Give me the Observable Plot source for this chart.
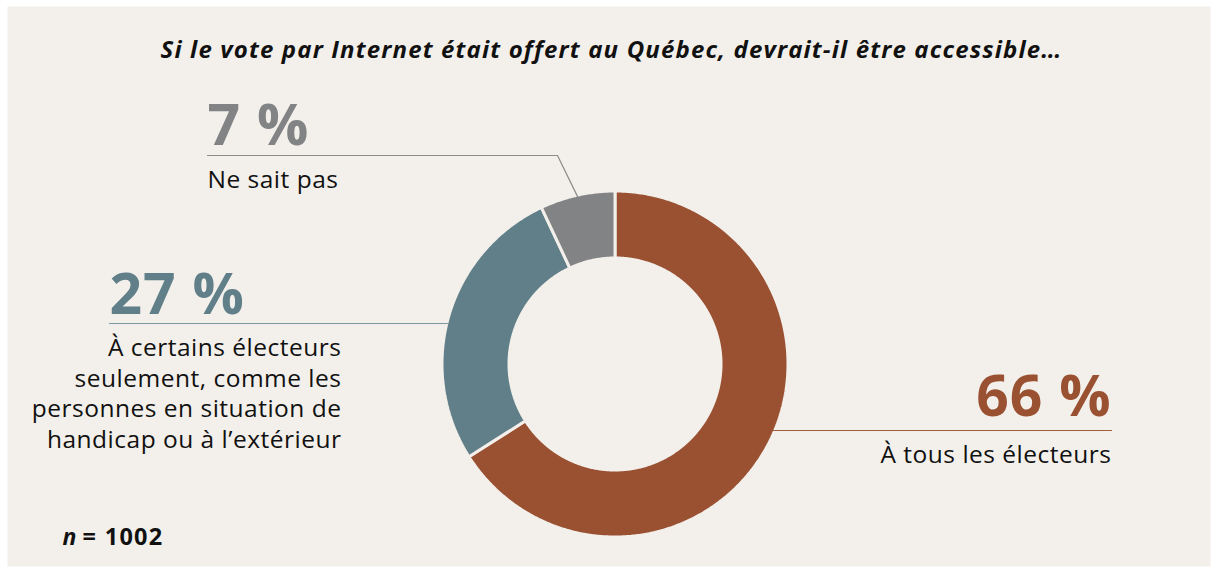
<!DOCTYPE html>
<html>
<head>
<meta charset="utf-8">
<script src="https://cdn.jsdelivr.net/npm/d3@7"></script>
<script src="https://cdn.jsdelivr.net/npm/@observablehq/plot@0.6"></script>
<style>
  html, body { margin: 0; padding: 0; background: #ffffff; }
  #chart svg { display: block; }
</style>
</head>
<body>
<div id="chart"></div>
<script>
// ---- data ----
const categories = ["À tous les électeurs", "À certains électeurs seulement, comme les personnes en situation de handicap ou à l’extérieur", "Ne sait pas"];
const keys = ["tous", "certains", "nsp"];
const values = [66, 27, 7];
const valueLabels = ["66 %", "27 %", "7 %"];
const labelLines = [
  "À tous les électeurs",
  "À certains électeurs\nseulement, comme les\npersonnes en situation de\nhandicap ou à l’extérieur",
  "Ne sait pas"
];
const titleText = "Si le vote par Internet était offert au Québec, devrait-il être accessible…";
const sampleN = "n";
const sampleLabel = "= 1002";

// ---- layout & style (not data) ----
const W = 1211, H = 568;
const bg = "#f3f0eb";
const sliceColors = ["#9a5132", "#607f88", "#828385"];
const lineColors = ["#a35c3c", "#7d98a1", "#8c8c8c"];
const cx = 614.5, cy = 363.5, rOuter = 173, rInner = 106;
const font = "Open Sans, Lato, sans-serif";
// label anchors per slice (pixels)
const layout = [
  {lineY: 430, textX: 1111, anchor: "end", pctY: 415, txtY: 462},
  {lineY: 323, textX: 109, anchor: "start", pctY: 313, txtX: 341, txtY: 447},
  {lineY: 155, textX: 207, anchor: "start", pctY: 144, txtY: 187, elbowX: 557}
];

// ---- derived geometry ----
const total = d3.sum(values);
let acc = 0;
const slices = values.map((v, i) => {
  const a0 = acc / total * 2 * Math.PI;
  acc += v;
  const a1 = acc / total * 2 * Math.PI;
  return {key: keys[i], a0, a1, value: v};
});
const pt = (a, r) => [cx + r * Math.sin(a), cy - r * Math.cos(a)];
const polyPts = [];
slices.forEach(s => {
  const n = Math.max(8, Math.ceil((s.a1 - s.a0) / (Math.PI / 360)));
  const pts = [];
  for (let k = 0; k <= n; k++) pts.push(pt(s.a0 + (s.a1 - s.a0) * k / n, rOuter));
  for (let k = n; k >= 0; k--) pts.push(pt(s.a0 + (s.a1 - s.a0) * k / n, rInner));
  pts.push(pts[0]);
  pts.forEach(p => polyPts.push({key: s.key, x: p[0], y: p[1]}));
});

// leader lines
const visR = rOuter - 1.5;
const leaders = [];
slices.forEach((s, i) => {
  const L = layout[i];
  let pts;
  if (L.elbowX !== undefined) {
    const start = pt((s.a0 + s.a1) / 2, visR);
    pts = [start, [L.elbowX, L.lineY], [L.textX, L.lineY]];
  } else {
    const dy = L.lineY - cy;
    const dx = Math.sqrt(visR * visR - dy * dy);
    const side = L.anchor === "end" ? 1 : -1;
    pts = [[cx + side * dx, L.lineY], [L.textX, L.lineY]];
  }
  pts.forEach(p => leaders.push({key: s.key, x: p[0], y: p[1]}));
});

const pctData = slices.map((s, i) => ({
  key: s.key, text: valueLabels[i],
  x: layout[i].textX, y: layout[i].pctY, anchor: layout[i].anchor
}));
const txtData = slices.map((s, i) => ({
  key: s.key, text: labelLines[i],
  x: layout[i].txtX !== undefined ? layout[i].txtX : layout[i].textX,
  y: layout[i].txtY,
  anchor: layout[i].txtX !== undefined ? "end" : layout[i].anchor
}));

const colorOf = Object.fromEntries(keys.map((k, i) => [k, sliceColors[i]]));
const lineColorOf = Object.fromEntries(keys.map((k, i) => [k, lineColors[i]]));

const chart = Plot.plot({
  width: W, height: H,
  margin: 0,
  style: {background: "#ffffff", fontFamily: font},
  x: {domain: [0, W], range: [0, W], axis: null},
  y: {domain: [0, H], range: [0, H], axis: null},
  color: {type: "ordinal", domain: keys, range: sliceColors},
  marks: [
    Plot.frame({fill: bg, stroke: null, insetLeft: 7, insetTop: 6, insetRight: 1, insetBottom: 2}),
    Plot.line(polyPts, {x: "x", y: "y", z: "key", fill: "key", stroke: bg, strokeWidth: 3, curve: "linear", strokeLinejoin: "miter"}),
    Plot.line(leaders, {x: "x", y: "y", z: "key", stroke: d => lineColorOf[d.key], strokeWidth: 1.2}),
    // 0,1: percentages
    Plot.text(pctData.filter(d => d.anchor === "start"), {x: "x", y: "y", text: "text", textAnchor: "start", lineAnchor: "bottom", fill: d => colorOf[d.key], fontSize: 57, fontWeight: 700, fontFamily: font}),
    Plot.text(pctData.filter(d => d.anchor === "end"), {x: "x", y: "y", text: "text", textAnchor: "end", lineAnchor: "bottom", fill: d => colorOf[d.key], fontSize: 57, fontWeight: 700, fontFamily: font}),
    // 2,3: labels
    Plot.text(txtData.filter(d => d.anchor === "start"), {x: "x", y: "y", text: "text", textAnchor: "start", lineAnchor: "bottom", fill: "#111111", fontSize: 24.5, lineHeight: 1.24, fontFamily: font}),
    Plot.text(txtData.filter(d => d.anchor === "end"), {x: "x", y: "y", text: "text", textAnchor: "end", lineAnchor: "bottom", fill: "#111111", fontSize: 24.5, lineHeight: 1.24, fontFamily: font}),
    // 4: title
    Plot.text([titleText], {x: 611, y: 57, text: d => d, textAnchor: "middle", lineAnchor: "bottom", fill: "#111111", fontSize: 24, fontWeight: 700, fontStyle: "italic", fontFamily: font}),
    // 5,6: sample size
    Plot.text([sampleN], {x: 62, y: 544, text: d => d, textAnchor: "start", lineAnchor: "bottom", fill: "#111111", fontSize: 23, fontWeight: 700, fontStyle: "italic", fontFamily: font}),
    Plot.text([sampleLabel], {x: 82, y: 544, text: d => d, textAnchor: "start", lineAnchor: "bottom", fill: "#111111", fontSize: 23.5, fontWeight: 700, fontFamily: font})
  ]
});
chart.setAttribute("font-family", font);
const textGroups = chart.querySelectorAll('g[aria-label="text"]');
const spacing = [1, 1, 0.5, 0.5, 1.15, 0, 1.3];
textGroups.forEach((g, i) => { if (spacing[i]) g.setAttribute("letter-spacing", spacing[i] + "px"); });
document.getElementById("chart").appendChild(chart);
</script>
</body>
</html>
